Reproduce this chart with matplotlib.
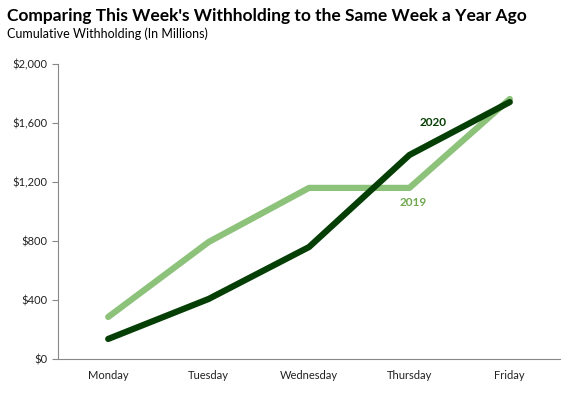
import matplotlib
matplotlib.use("Agg")
import matplotlib.pyplot as plt
from matplotlib.ticker import FuncFormatter

days = ["Monday", "Tuesday", "Wednesday", "Thursday", "Friday"]
w2019 = [285, 793, 1160, 1160, 1763]
w2020 = [136, 407, 759, 1383, 1742]
yticks = [0, 400, 800, 1200, 1600, 2000]

plt.rcParams['font.family'] = ['Lato', 'DejaVu Sans']

fig = plt.figure(figsize=(5.72, 3.99), dpi=100)
ax = fig.add_axes([58/572, 1-359/399, (560-58)/572, (359-64)/399])

x = list(range(len(days)))
c19 = "#8cc27a"
c20 = "#063f06"
ax.plot(x, w2019, color=c19, lw=4.5, solid_capstyle='round', solid_joinstyle='round')
ax.plot(x, w2020, color=c20, lw=4.5, solid_capstyle='round', solid_joinstyle='round')

ax.set_xlim(-0.5, 4.5)
ax.set_ylim(0, 2000)
ax.set_yticks(yticks)
ax.yaxis.set_major_formatter(FuncFormatter(lambda v, p: f"${v:,.0f}"))
ax.set_xticks(x)
ax.set_xticklabels(days)
ax.tick_params(axis='both', labelsize=8, colors="#222222", length=4, color="#888888")
ax.tick_params(axis='x', length=0, pad=8)
for s in ['top', 'right']:
    ax.spines[s].set_visible(False)
for s in ['left', 'bottom']:
    ax.spines[s].set_color("#888888")

ax.text(3.235, 1600, "2020", color=c20, fontsize=8.5, fontweight='bold', ha='center', va='center')
ax.text(3.036, 1058, "2019", color="#70a84f", fontsize=8.5, fontweight='bold', ha='center', va='center')

fig.text(7/572, 1-16/399, "Comparing This Week's Withholding to the Same Week a Year Ago",
         fontsize=12.5, fontweight='bold', va='center', ha='left')
fig.text(7/572, 1-34/399, "Cumulative Withholding (In Millions)", fontsize=9, va='center', ha='left')

fig.savefig("out.png", dpi=100)
